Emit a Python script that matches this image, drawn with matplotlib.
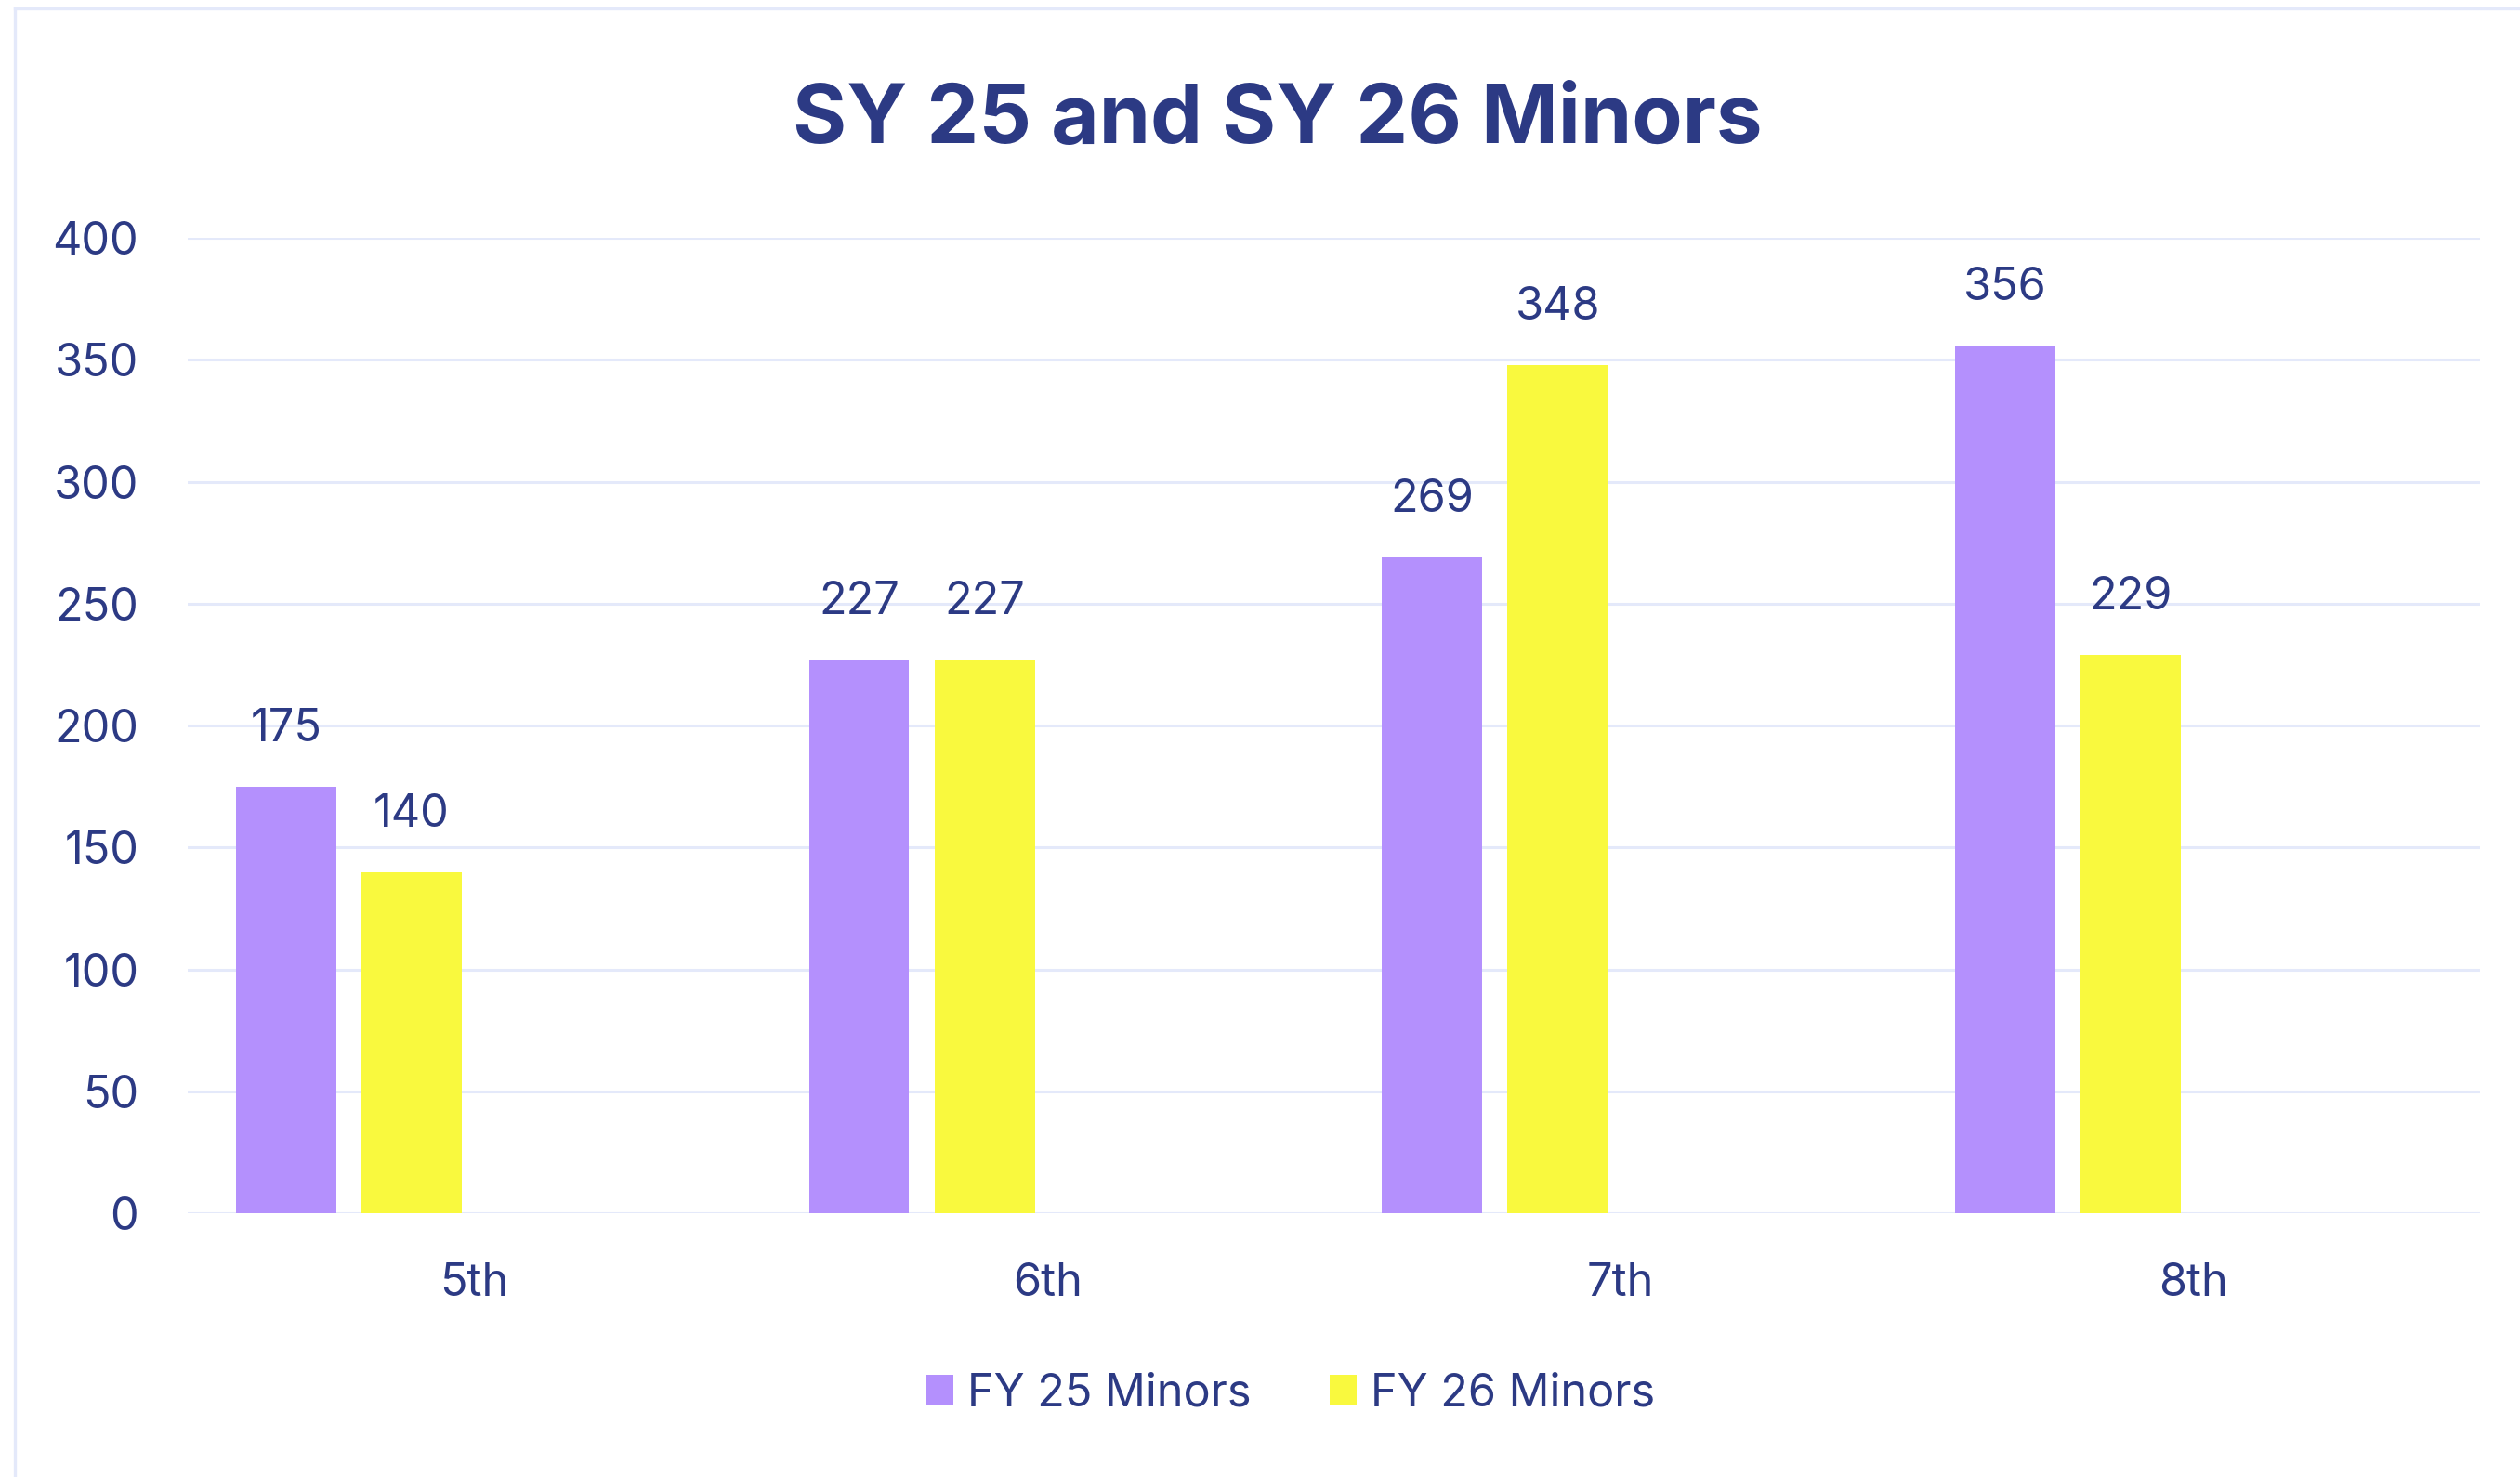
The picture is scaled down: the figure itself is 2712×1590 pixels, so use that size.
import matplotlib
matplotlib.use("Agg")
import matplotlib.pyplot as plt
import numpy as np
from matplotlib.lines import Line2D
from matplotlib.patches import Patch

categories = ["5th", "6th", "7th", "8th"]
series_names = ["FY 25 Minors", "FY 26 Minors"]
fy25_minors = [175, 227, 269, 356]
fy26_minors = [140, 227, 348, 229]
y_ticks = [0, 50, 100, 150, 200, 250, 300, 350, 400]

purple = "#B490FD"
yellow = "#F9F93E"
text_color = "#2C3A84"
grid_color = "#E4E9FA"
FONT = "Inter"

W, H, DPI = 2712, 1590, 200
fig = plt.figure(figsize=(W / DPI, H / DPI), dpi=DPI)
fig.patch.set_facecolor("white")

ax = fig.add_axes([202 / W, 1 - 1306 / H, (2669 - 202) / W, (1306 - 256) / H])
x = np.arange(len(categories))
bar_w = 0.175
step = 0.219
offsets = [-1.5 * step, -0.5 * step]  # 4 series slots; last two are empty

for vals, off, col in zip([fy25_minors, fy26_minors], offsets, [purple, yellow]):
    bars = ax.bar(x + off, vals, width=bar_w, color=col, zorder=3)
    for b, v in zip(bars, vals):
        ax.annotate(str(v), (b.get_x() + b.get_width() / 2, v),
                    xytext=(0, 14), textcoords="offset points",
                    ha="center", va="bottom", fontsize=17.5, color=text_color,
                    family=FONT)

ax.set_xlim(-0.5, len(categories) - 0.5)
ax.set_ylim(0, 400)
ax.set_yticks(y_ticks)
ax.set_xticks(x)
ax.set_xticklabels(categories)
ax.yaxis.grid(True, color=grid_color, linewidth=1.1, zorder=0)
ax.set_axisbelow(True)
for s in ax.spines.values():
    s.set_visible(False)
ax.tick_params(axis="both", length=0, labelsize=17.5, labelcolor=text_color)
ax.tick_params(axis="y", pad=19)
ax.tick_params(axis="x", pad=19)
for lab in ax.get_xticklabels() + ax.get_yticklabels():
    lab.set_family(FONT)

fig.text(1375 / W, 1 - 154 / H, "SY 25 and SY 26 Minors", ha="center", va="baseline",
         fontsize=32, fontweight="bold", color=text_color, family=FONT)

handles = [Patch(facecolor=purple, edgecolor="none"), Patch(facecolor=yellow, edgecolor="none")]
leg = fig.legend(handles, series_names, loc="center", bbox_to_anchor=(1389 / W, 1 - 1500 / H),
                 ncol=2, frameon=False, handlelength=0.6, handleheight=0.66,
                 handletextpad=0.3, columnspacing=1.75, prop={"family": FONT, "size": 17.5})
for t in leg.get_texts():
    t.set_color(text_color)

# faint outer frame (left and top edges)
fig.add_artist(Line2D([16 / W, 16 / W], [0, 1 - 9 / H], transform=fig.transFigure,
                      color=grid_color, linewidth=1.2))
fig.add_artist(Line2D([16 / W, 1], [1 - 9 / H, 1 - 9 / H], transform=fig.transFigure,
                      color=grid_color, linewidth=1.2))

fig.savefig("out.png", dpi=DPI)
